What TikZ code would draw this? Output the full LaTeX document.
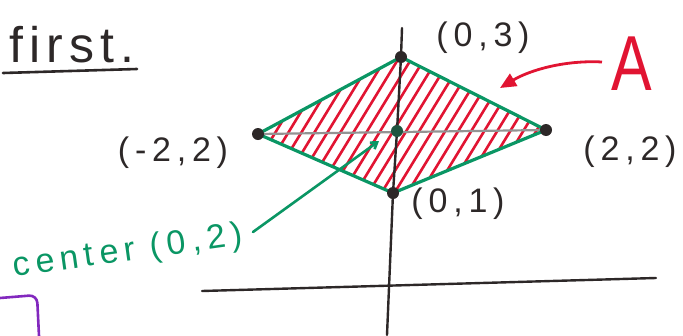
\documentclass[tikz,border=0pt]{standalone}
\usepackage{fontspec}
\setmainfont{Liberation Sans}
\newfontfamily\hand[LetterSpace=17]{Liberation Sans}
\newfontfamily\handc[LetterSpace=17]{Liberation Sans}
\newfontfamily\handf[LetterSpace=12]{Liberation Sans}
\usetikzlibrary{arrows.meta}
\definecolor{hgreen}{RGB}{10,150,100}
\definecolor{hred}{RGB}{225,20,50}
\definecolor{hpurple}{RGB}{130,40,190}
\definecolor{hink}{RGB}{45,40,40}
\begin{document}
\begin{tikzpicture}[x=1pt,y=-1pt,
  lbl/.style={text=hink,font=\hand\fontsize{34}{34}\selectfont,inner sep=0pt},
  vdot/.style={circle,fill=hink,minimum size=12pt,inner sep=0pt},
  axis/.style={draw=hink,line width=2.4pt,line cap=round},
  outline/.style={draw=hgreen,line width=3.2pt,line join=round},
  hatch/.style={draw=hred,line width=2.6pt},
  pointer/.style={draw=hgreen,line width=2.6pt,line cap=round}]
\useasboundingbox (0,0) rectangle (683,335);
% diamond vertices
\coordinate (T) at (401,57);
\coordinate (L) at (258,134);
\coordinate (R) at (546,130);
\coordinate (B) at (393,193);
\coordinate (C) at (397,131);
% hatching
\begin{scope}
  \clip (T) -- (R) -- (B) -- (L) -- cycle;
  \foreach \x in {150,163,...,640} {
    \draw[hatch] (\x,210) -- ++(110,-180);
  }
\end{scope}
% gray diagonal
\draw[draw=gray!85,line width=2.2pt] (L) -- (R);
% outline
\draw[outline] (T) -- (R) -- (B) -- (L) -- cycle;
% axes
\coordinate (vtop) at (402,28);
\coordinate (vbot) at (387,335);
\coordinate (hl) at (202,291);
\coordinate (hr) at (656,278);
\draw[axis] (vtop) -- (T) -- (C) -- (B) -- (vbot);
\draw[axis] (hl) -- (hr);
% vertex dots
\node[vdot] (dT) at (T) {};
\node[vdot] (dL) at (L) {};
\node[vdot] (dR) at (R) {};
\node[vdot] (dB) at (B) {};
\node[vdot,fill=hink!60!hgreen] (dC) at (C) {};
% labels
\node[lbl] (l03) at (483,38) {(0,3)};
\node[lbl] (lm22) at (173,153) {(-2,2)};
\node[lbl] (l22) at (630,152) {(2,2)};
\node[lbl] (l01) at (458,204) {(0,1)};
\node[text=hink,font=\handf\fontsize{50}{50}\selectfont,inner sep=0pt] (first) at (72,45) {first.};
\coordinate (ul1) at (3,73);
\coordinate (ul2) at (137,69);
\draw[draw=hink,line width=2.6pt,line cap=round] (ul1) -- (ul2);
% A and arrow
\node[text=hred,font=\fontsize{78}{78}\selectfont,xscale=0.78,transform shape,inner sep=0pt] (A) at (632,64) {A};
\coordinate (atail) at (602,62);
\coordinate (ahead) at (500,88);
\draw[draw=hred,line width=2.8pt,-{Triangle[length=16pt,width=14pt]}] (atail) .. controls (565,60) and (530,70) .. (ahead);
% center label and pointer
\node[text=hgreen,font=\handc\fontsize{34}{34}\selectfont,rotate=8,inner sep=0pt] (cen) at (128,252) {center (0,2)};
\coordinate (ptail) at (253,232);
\coordinate (phead) at (379,141);
\draw[pointer,-{Straight Barb[length=6pt,width=8pt]}] (ptail) -- (phead);
% purple box fragment
\coordinate (pb1) at (0,298);
\coordinate (pb2) at (37,295);
\coordinate (pb3) at (39,336);
\draw[draw=hpurple,line width=2.6pt,rounded corners=8pt] (pb1) -- (pb2) -- (pb3);
\end{tikzpicture}
\end{document}
